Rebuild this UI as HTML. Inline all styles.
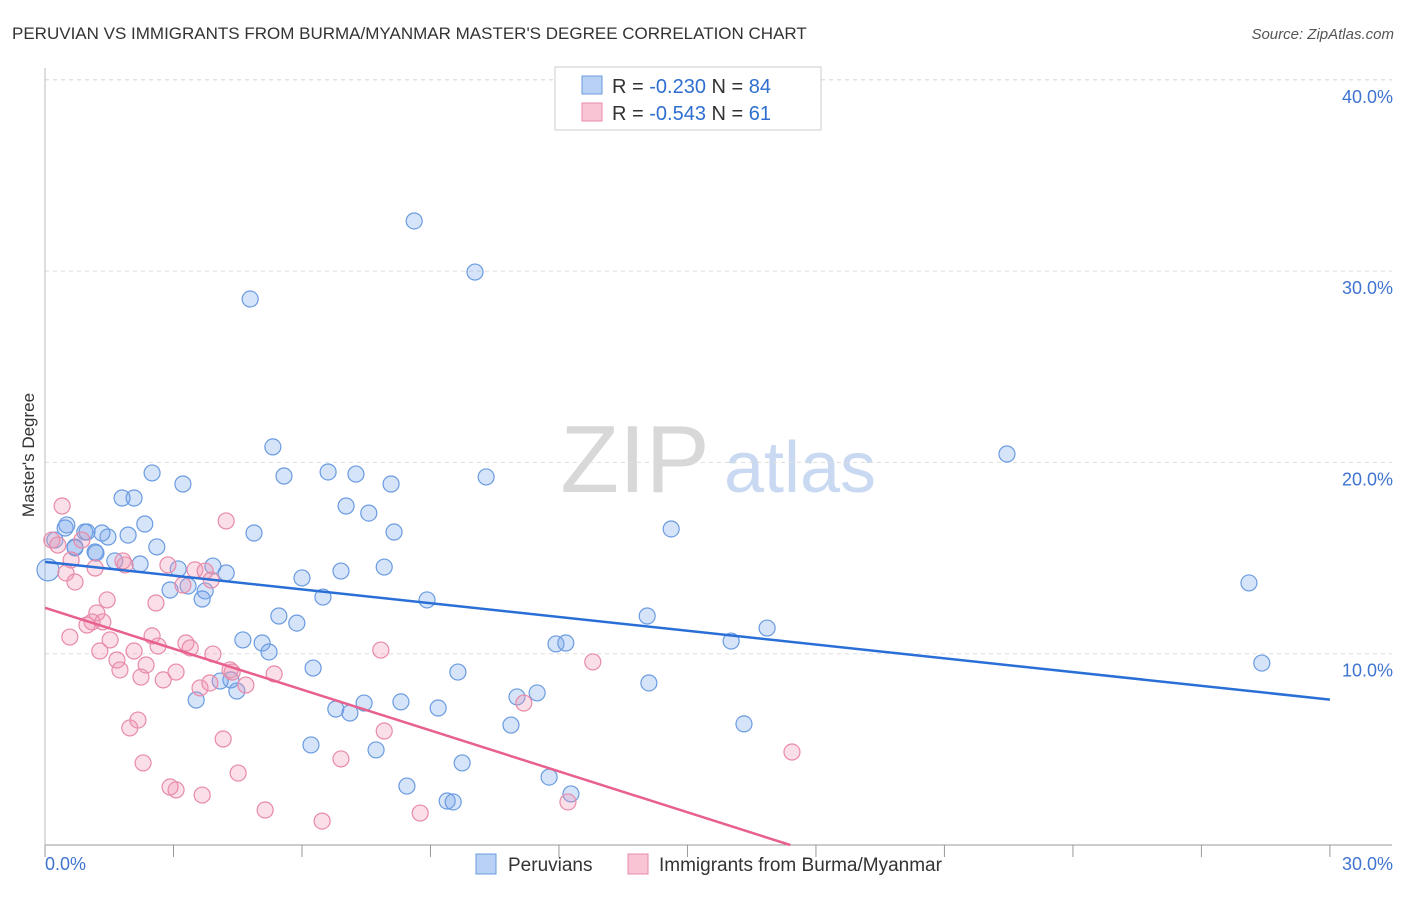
<!DOCTYPE html>
<html><head><meta charset="utf-8"><style>
body{margin:0;background:#fff;font-family:"Liberation Sans",sans-serif}
svg text{font-family:"Liberation Sans",sans-serif}
</style></head><body>
<svg id="c" width="1406" height="892" xmlns="http://www.w3.org/2000/svg">
<text x="12" y="39" font-size="17" fill="#333">PERUVIAN VS IMMIGRANTS FROM BURMA/MYANMAR MASTER'S DEGREE CORRELATION CHART</text>
<text x="1394" y="39" font-size="15" fill="#555" text-anchor="end" font-style="italic">Source: ZipAtlas.com</text>
<text x="635" y="492" font-size="96" fill="#d8d8d8" font-family="Liberation Serif" text-anchor="middle">ZIP</text>
<text x="800" y="492" font-size="72" fill="#c9d9f2" text-anchor="middle">atlas</text>
<text transform="translate(34,455) rotate(-90)" font-size="17" fill="#333" text-anchor="middle">Master's Degree</text>
<g id="grid"></g><g id="pts"></g><g id="lines"></g>
<g>
<rect x="555" y="67" width="266" height="63" fill="#fff" stroke="#ccc"/>
<rect x="582" y="76" width="20" height="18" fill="#b9d1f5" stroke="#6a9be0"/>
<rect x="582" y="103" width="20" height="18" fill="#f9c5d5" stroke="#e88aa8"/>
<text x="612" y="93" font-size="20" fill="#333">R = <tspan fill="#2f6fd0">-0.230</tspan>   N = <tspan fill="#2f6fd0">84</tspan></text>
<text x="612" y="120" font-size="20" fill="#333">R = <tspan fill="#2f6fd0">-0.543</tspan>   N =  <tspan fill="#2f6fd0">61</tspan></text>
</g>
<g>
<rect x="476" y="854" width="20" height="20" fill="#b9d1f5" stroke="#6a9be0"/>
<text x="508" y="871" font-size="19" fill="#333">Peruvians</text>
<rect x="628" y="854" width="20" height="20" fill="#f9c5d5" stroke="#e88aa8"/>
<text x="659" y="871" font-size="19" fill="#333">Immigrants from Burma/Myanmar</text>
</g>
</svg>
<script>
const yTicks=[10,20,30,40];
const yTickLabels=["10.0%","20.0%","30.0%","40.0%"];
const xTickLabels=["0.0%","30.0%"];
const bluePx=[[48,570],[55,540],[65,528],[75,548],[85,532],[95,552],[250,299],[414,221],[475,272],[1007,454],[1249,583],[1262,663],[671,529],[647,616],[731,641],[767,628],[649,683],[744,724],[486,477],[458,672],[427,600],[391,484],[394,532],[384,567],[356,474],[328,472],[346,506],[369,513],[341,571],[302,578],[323,597],[284,476],[273,447],[254,533],[279,616],[297,623],[262,643],[269,652],[243,640],[237,691],[231,680],[220,681],[196,700],[226,573],[213,566],[205,591],[202,599],[188,586],[178,569],[170,590],[183,484],[152,473],[145,524],[157,547],[140,564],[128,535],[134,498],[122,498],[115,561],[108,537],[102,533],[96,553],[87,532],[75,547],[67,525],[313,668],[336,709],[350,713],[364,703],[401,702],[438,708],[376,750],[311,745],[407,786],[447,801],[453,802],[462,763],[511,725],[517,697],[537,693],[556,644],[566,643],[549,777],[571,794]];
const pinkPx=[[62,506],[52,540],[58,545],[66,573],[75,582],[82,540],[71,560],[95,568],[97,613],[92,622],[87,625],[103,622],[107,600],[70,637],[100,651],[110,640],[117,660],[120,670],[125,565],[123,561],[134,651],[146,665],[141,677],[156,603],[152,636],[158,646],[163,680],[176,672],[183,585],[168,565],[195,570],[186,643],[190,648],[200,688],[210,683],[213,654],[226,521],[232,672],[246,685],[230,670],[274,674],[223,739],[238,773],[202,795],[176,790],[170,787],[143,763],[130,728],[138,720],[265,810],[322,821],[341,759],[384,731],[381,650],[420,813],[524,703],[593,662],[568,802],[792,752],[205,571],[211,580]];
// data values (x %, y %) derived from reading the picture
const peruX=bluePx.map(p=>+((p[0]-45)/42.83).toFixed(2));
const peruY=bluePx.map(p=>+((845-p[1])/19.13).toFixed(2));
const burmaX=pinkPx.map(p=>+((p[0]-45)/42.83).toFixed(2));
const burmaY=pinkPx.map(p=>+((845-p[1])/19.13).toFixed(2));
const blueTrend=[[0,14.8],[30,7.6]];
const pinkTrend=[[0,12.4],[17.4,0]];
const NS="http://www.w3.org/2000/svg";
const sx=v=>45+v*42.83, sy=v=>845-v*19.13;
function mk(t,a,p){const e=document.createElementNS(NS,t);for(const k in a)e.setAttribute(k,a[k]);p.appendChild(e);return e;}
const g=document.getElementById('grid');
yTicks.forEach((t,i)=>{
 const l=mk('line',{x1:45,x2:1392,y1:sy(t),y2:sy(t),stroke:'#ddd','stroke-dasharray':'4,4'},g);
 
 
 const tx=mk('text',{x:1393,y:sy(t)+23,'font-size':18,fill:'#3f74d0','text-anchor':'end'},g);tx.textContent=yTickLabels[i];
 
 
});
mk('line',{x1:45,x2:1392,y1:sy(40),y2:sy(40),stroke:'#ddd','stroke-dasharray':'4,4'},g);
const ax=mk('line',{x1:45,x2:1392,y1:845,y2:845,stroke:'#999'},g);


const ay=mk('line',{x1:45,x2:45,y1:68,y2:845,stroke:'#bbb'},g);


for(let i=0;i<=10;i++){mk('line',{x1:sx(i*3),x2:sx(i*3),y1:845,y2:857,stroke:'#999'},g);}
[[0,'start',45],[1,'end',1393]].forEach(([i,a,x])=>{const t=mk('text',{x:x,y:870,'font-size':18,fill:'#3f74d0','text-anchor':a},g);t.textContent=xTickLabels[i];
 
 });
const pg=document.getElementById('pts');
peruX.forEach((x,i)=>{const c=mk('circle',{cx:sx(x),cy:sy(peruY[i]),r:i==0?11:8,fill:'rgba(120,165,235,0.3)',stroke:'#6a9be0','stroke-width':1.2},pg);
 
 });
burmaX.forEach((x,i)=>{const c=mk('circle',{cx:sx(x),cy:sy(burmaY[i]),r:8,fill:'rgba(240,150,180,0.3)',stroke:'#e88aa8','stroke-width':1.2},pg);
 
 });
const lg=document.getElementById('lines');
const b=mk('line',{x1:sx(blueTrend[0][0]),y1:sy(blueTrend[0][1]),x2:sx(blueTrend[1][0]),y2:sy(blueTrend[1][1]),stroke:'#2a6fd6','stroke-width':2.5},lg);


const p=mk('line',{x1:sx(pinkTrend[0][0]),y1:sy(pinkTrend[0][1]),x2:sx(pinkTrend[1][0]),y2:sy(pinkTrend[1][1]),stroke:'#e8608e','stroke-width':2.5},lg);


</script>
</body></html>
